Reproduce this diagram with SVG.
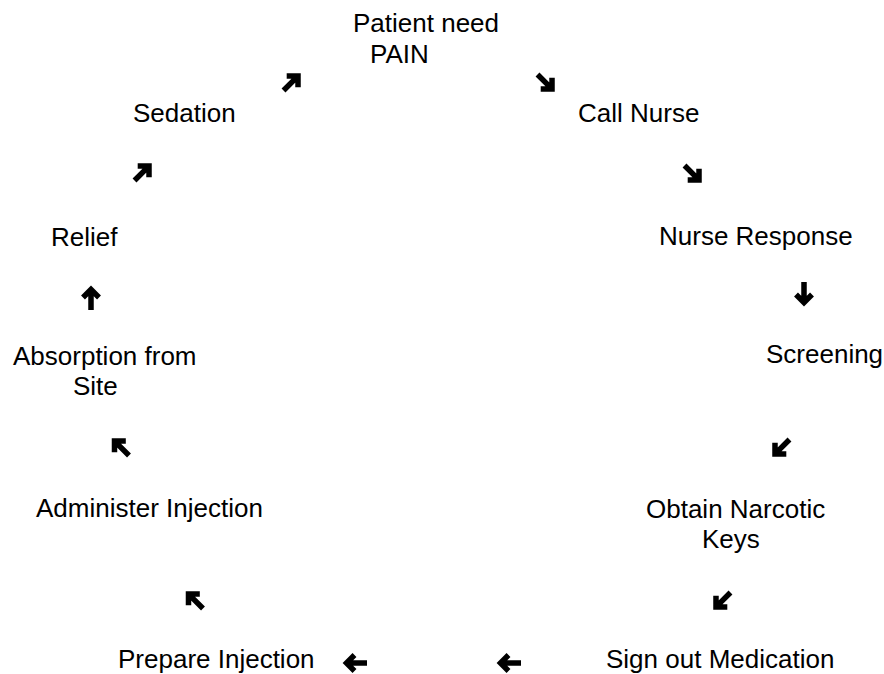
<svg xmlns="http://www.w3.org/2000/svg" xmlns:xlink="http://www.w3.org/1999/xlink" width="884" height="674" viewBox="0 0 884 674">
<style>
text{font-family:"Liberation Sans",Arial,sans-serif;font-size:26px;fill:#000}
.ar{fill:none;stroke:#000;stroke-width:5.5;stroke-linejoin:miter;stroke-miterlimit:10}
</style>
<defs>
<path id="a" class="ar" d="M-12,0H8M0.5,-8L8.5,0L0.5,8"/>
</defs>
<rect width="884" height="674" fill="#fff"/>
<g id="n-patient"><text x="353" y="32">Patient need</text><text x="370" y="63">PAIN</text></g>
<g id="n-call"><text x="578" y="122">Call Nurse</text></g>
<g id="n-response"><text x="659" y="245">Nurse Response</text></g>
<g id="n-screening"><text x="766" y="363">Screening</text></g>
<g id="n-keys"><text x="646" y="518">Obtain Narcotic</text><text x="702" y="548">Keys</text></g>
<g id="n-sign"><text x="606" y="668">Sign out Medication</text></g>
<g id="n-prepare"><text x="118" y="668">Prepare Injection</text></g>
<g id="n-administer"><text x="36" y="517">Administer Injection</text></g>
<g id="n-absorption"><text x="13" y="365">Absorption from</text><text x="73" y="395">Site</text></g>
<g id="n-relief"><text x="51" y="246">Relief</text></g>
<g id="n-sedation"><text x="133" y="122">Sedation</text></g>
<g id="connectors">
<use xlink:href="#a" transform="translate(546,83) rotate(45)"/>
<use xlink:href="#a" transform="translate(693,174) rotate(45)"/>
<use xlink:href="#a" transform="translate(804,294) rotate(90)"/>
<use xlink:href="#a" transform="translate(781,448) rotate(135)"/>
<use xlink:href="#a" transform="translate(722,601) rotate(135)"/>
<use xlink:href="#a" transform="translate(509,663) rotate(180)"/>
<use xlink:href="#a" transform="translate(355,663) rotate(180)"/>
<use xlink:href="#a" transform="translate(194.5,600) rotate(225)"/>
<use xlink:href="#a" transform="translate(120.5,447) rotate(225)"/>
<use xlink:href="#a" transform="translate(91,298) rotate(270)"/>
<use xlink:href="#a" transform="translate(143,172) rotate(315)"/>
<use xlink:href="#a" transform="translate(292,82) rotate(315)"/>
</g>
</svg>
